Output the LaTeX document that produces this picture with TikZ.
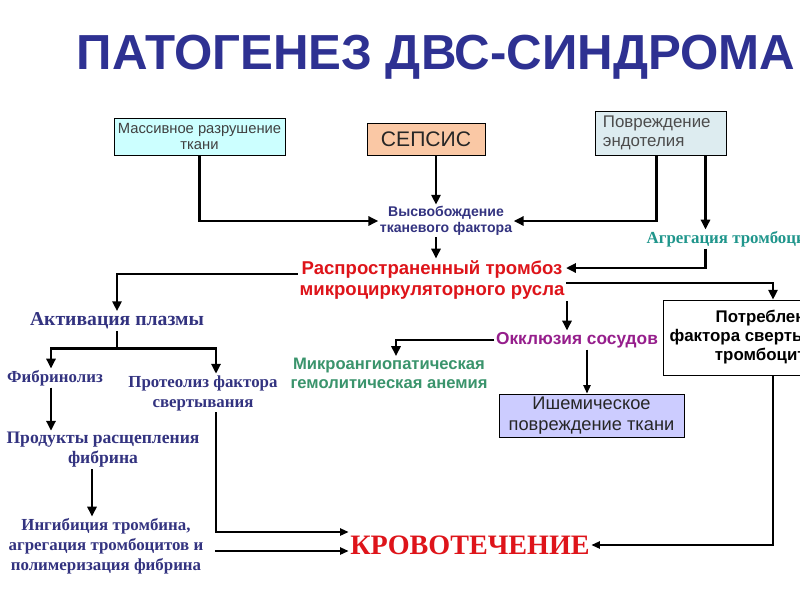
\documentclass[tikz,border=0pt]{standalone}
\usepackage{fontspec}
\setmainfont{Liberation Sans}
\newfontfamily\tnr{Liberation Serif}
\usetikzlibrary{arrows.meta,calc}
\definecolor{titleblue}{RGB}{46,49,146}
\definecolor{inkblue}{RGB}{51,51,128}
\definecolor{redtxt}{RGB}{222,20,26}
\definecolor{tealtxt}{RGB}{32,150,140}
\definecolor{greentxt}{RGB}{58,148,108}
\definecolor{purpletxt}{RGB}{150,30,140}
\definecolor{cyanbox}{RGB}{204,255,255}
\definecolor{salmonbox}{RGB}{250,200,165}
\definecolor{greybox}{RGB}{221,236,240}
\definecolor{lilacbox}{RGB}{204,204,255}
\begin{document}
\begin{tikzpicture}[x=0.025cm,y=-0.025cm,
  arr/.style={line width=2.1pt,-{Triangle[length=7pt,width=6.5pt]}},
  thinarr/.style={line width=1.4pt,-{Triangle[length=6pt,width=5pt]}},
  box/.style={draw,inner sep=1pt,align=center},
  lbl/.style={inner sep=1pt,align=center}]
\useasboundingbox[fill=white] (0,0) rectangle (800,600);
\node[lbl,text=titleblue,font=\bfseries\fontsize{35}{40}\selectfont] (title) at (436,57) {ПАТОГЕНЕЗ ДВС-СИНДРОМА};
% sources
\node[box,fill=cyanbox,minimum width=4.28cm,minimum height=0.93cm,text=black!75,font=\fontsize{10.5}{11}\selectfont] (mass) at (199.5,136.5) {Массивное разрушение\\ткани};
\node[box,fill=salmonbox,minimum width=2.95cm,minimum height=0.8cm,text=black!85,font=\fontsize{15}{17}\selectfont] (seps) at (426,139) {СЕПСИС};
\node[box,fill=greybox,minimum width=3.28cm,minimum height=1.1cm,inner xsep=0.2cm,text width=2.88cm,align=left,text=black!70,font=\fontsize{12}{13}\selectfont] (povr) at (660.5,133) {Повреждение\\эндотелия};
\node[lbl,text=inkblue,font=\bfseries\fontsize{10}{11.5}\selectfont] (vysv) at (446,221) {Высвобождение\\тканевого фактора};
\node[lbl,anchor=west,text=tealtxt,font=\tnr\bfseries\fontsize{12}{14}\selectfont] (agr) at (645,239) {Агрегация тромбоцитов};
\node[lbl,text=redtxt,font=\bfseries\fontsize{13.2}{15.6}\selectfont] (rasp) at (432,280) {Распространенный тромбоз\\микроциркуляторного русла};
% left branch
\node[lbl,text=inkblue,font=\tnr\bfseries\fontsize{14}{16}\selectfont] (akt) at (117,321) {Активация плазмы};
\node[lbl,text=inkblue,font=\tnr\bfseries\fontsize{12}{14}\selectfont] (fibr) at (55,378) {Фибринолиз};
\node[lbl,text=inkblue,font=\tnr\bfseries\fontsize{12}{14.2}\selectfont] (prot) at (203,393) {Протеолиз фактора\\свертывания};
\node[lbl,text=inkblue,font=\tnr\bfseries\fontsize{12.5}{14.2}\selectfont] (prod) at (103,450) {Продукты расщепления\\фибрина};
\node[lbl,text=inkblue,font=\tnr\bfseries\fontsize{12}{14.2}\selectfont] (ingib) at (106,546) {Ингибиция тромбина,\\агрегация тромбоцитов и\\полимеризация фибрина};
% right branch
\node[lbl,text=purpletxt,font=\bfseries\fontsize{12.3}{14}\selectfont] (okkl) at (577,340) {Окклюзия сосудов};
\node[lbl,text=greentxt,font=\bfseries\fontsize{11.8}{13.5}\selectfont] (mikro) at (389,373) {Микроангиопатическая\\гемолитическая анемия};
\node[box,fill=lilacbox,minimum width=4.63cm,minimum height=1.08cm,text=black!85,font=\fontsize{13}{15}\selectfont] (ishem) at (591.5,415.5) {Ишемическое\\повреждение ткани};
\node[box,fill=white,minimum width=5.38cm,minimum height=1.88cm,font=\bfseries\fontsize{12}{13.5}\selectfont] (potr) at (770.5,337.5) {Потребление\\фактора свертывания и\\тромбоцитов};
\node[lbl,text=redtxt,font=\tnr\bfseries\fontsize{20}{22}\selectfont] (krov) at (470,545) {КРОВОТЕЧЕНИЕ};
% helper points
\coordinate (s1) at ($(seps.south)+(10,0)$);
\coordinate (p1) at ($(povr.south)+(-4,0)$);
\coordinate (p2) at ($(povr.south)+(45,0)$);
\coordinate (r1) at ($(rasp.east)+(0,-12)$);
\coordinate (r2) at ($(rasp.east)+(0,3)$);
\coordinate (r3) at ($(rasp.west)+(0,-6)$);
\coordinate (c1) at ($(potr.north)+(2.5,0)$);
\coordinate (o1) at ($(okkl.north)+(-10,0)$);
\coordinate (o2) at ($(okkl.south)+(10,0)$);
\coordinate (m1) at ($(mikro.north)+(7,0)$);
\coordinate (split) at ($(akt.south)+(0,18)$);
\coordinate (f1) at ($(fibr.north)+(-4,0)$);
\coordinate (pr1) at ($(prot.north)+(13,0)$);
\coordinate (pd1) at ($(prod.south)+(-11,0)$);
\coordinate (k1) at ($(krov.west)+(0,-13)$);
\coordinate (k2) at ($(krov.west)+(0,6)$);
\coordinate (g1) at ($(ingib.east)+(10,5)$);
% connectors
\draw[arr] (mass.south) |- (vysv.west);
\draw[arr] (s1) -- (s1 |- vysv.north);
\draw[arr] (p1) |- (vysv.east);
\draw[arr] (p2) -- (p2 |- agr.north);
\draw[arr] (p2 |- agr.south) |- (r1);
\draw[arr] (s1 |- vysv.south) -- (s1 |- rasp.north);
\draw[arr] (r3) -| (akt.north);
\draw[arr] (r2) -| (c1);
\draw[arr] (o1 |- rasp.south) -- (o1);
\draw[arr] (okkl.west) -| (m1);
\draw[thinarr] (o2) -- (o2 |- ishem.north);
\draw[line width=2.1pt] (akt.south) -- (split);
\draw[arr] (split) -| (f1);
\draw[arr] (split) -| (pr1);
\draw[arr] (f1 |- fibr.south) -- (f1 |- prod.north);
\draw[arr] (pd1) -- (pd1 |- ingib.north);
\draw[thinarr] (pr1 |- prot.south) |- (k1);
\draw[thinarr] (g1) -- (k2);
\draw[thinarr] (c1 |- potr.south) |- (krov.east);
\end{tikzpicture}
\end{document}
